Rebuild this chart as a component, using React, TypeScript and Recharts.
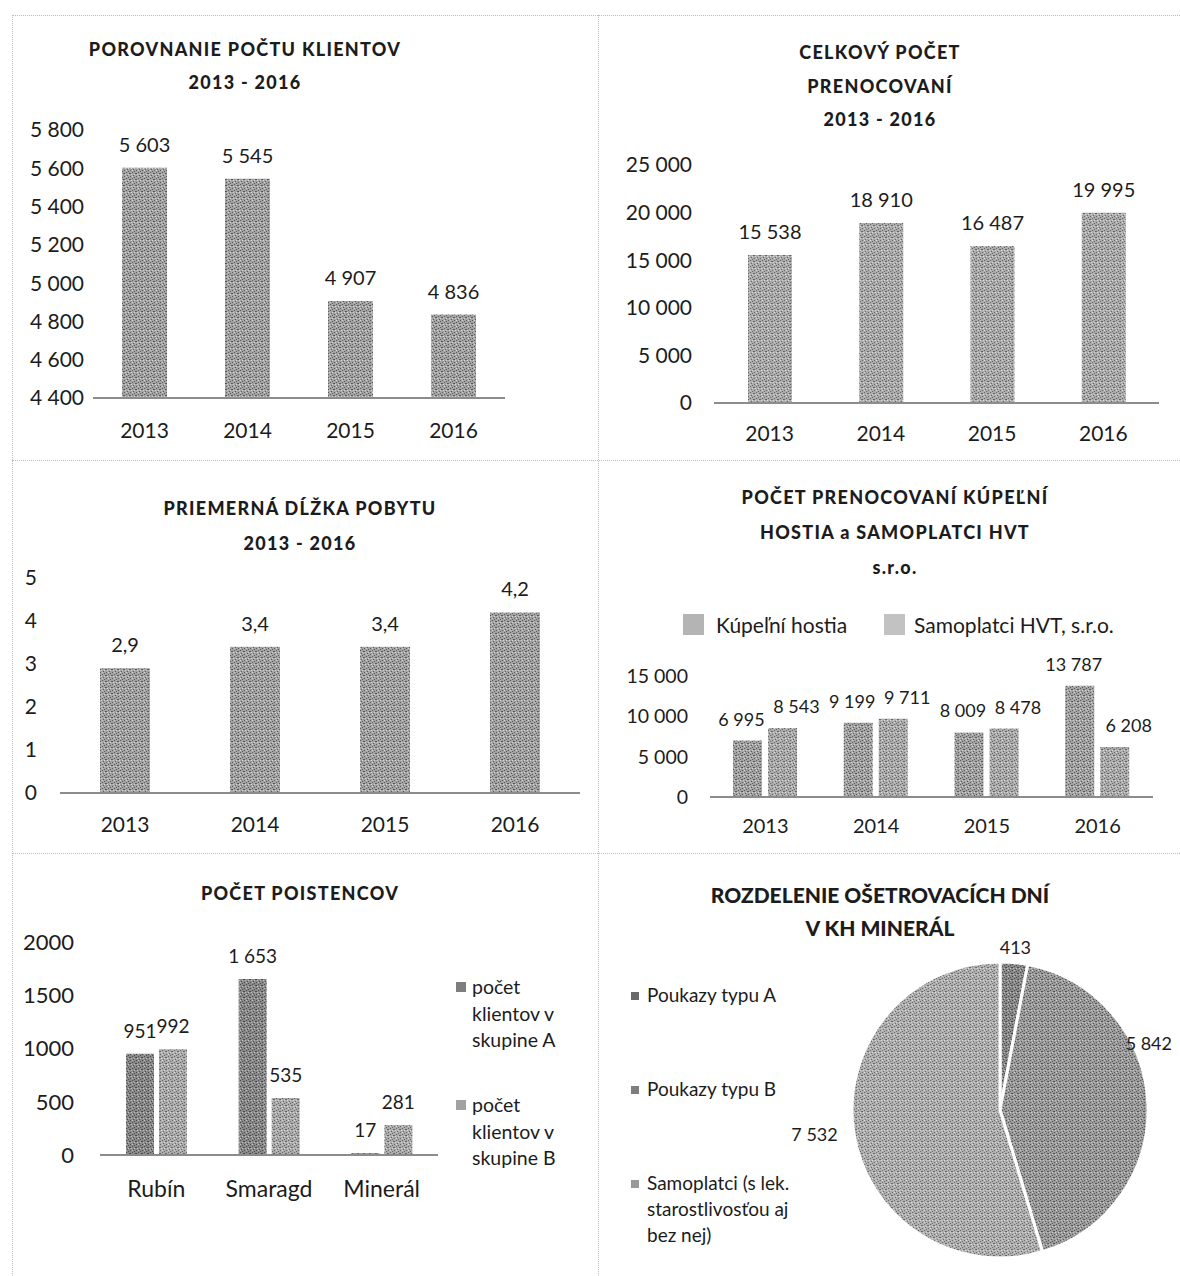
import React from 'react';
import { BarChart, Bar, XAxis, YAxis, LabelList, PieChart, Pie, Cell } from 'recharts';

const years = ['2013', '2014', '2015', '2016'];
const clients = [5603, 5545, 4907, 4836];
const clientTicks = [4400, 4600, 4800, 5000, 5200, 5400, 5600, 5800];
const nights = [15538, 18910, 16487, 19995];
const nightTicks = [0, 5000, 10000, 15000, 20000, 25000];
const avgStay = [2.9, 3.4, 3.4, 4.2];
const stayTicks = [0, 1, 2, 3, 4, 5];
const spaGuests = [6995, 9199, 8009, 13787];
const selfPayers = [8543, 9711, 8478, 6208];
const splitTicks = [0, 5000, 10000, 15000];
const splitNames = ['Kúpeľní hostia', 'Samoplatci HVT, s.r.o.'];
const resorts = ['Rubín', 'Smaragd', 'Minerál'];
const groupA = [951, 1653, 17];
const groupB = [992, 535, 281];
const insuredTicks = [0, 500, 1000, 1500, 2000];
const insuredNames = [['počet', 'klientov v', 'skupine A'], ['počet', 'klientov v', 'skupine B']];
const pieNames = [['Poukazy typu A'], ['Poukazy typu B'], ['Samoplatci (s lek.', 'starostlivosťou aj', 'bez nej)']];
const pieValues = [413, 5842, 7532];

const FONT = 'Lato, "Noto Sans", sans-serif';
const INK = '#1c1c1c';
const AXIS = '#8c8c8c';

const fmt = (v: number) => String(v).replace(/\B(?=(\d{3})+(?!\d))/g, ' ');
const fmtDec = (v: number) => String(v).replace('.', ',');

const clientData = years.map((y, i) => ({ year: y, v: clients[i] }));
const nightData = years.map((y, i) => ({ year: y, v: nights[i] }));
const stayData = years.map((y, i) => ({ year: y, v: avgStay[i] }));
const splitData = years.map((y, i) => ({ year: y, a: spaGuests[i], b: selfPayers[i] }));
const insuredData = resorts.map((r, i) => ({ name: r, a: groupA[i], b: groupB[i] }));
const pieData = pieValues.map((v, i) => ({ name: pieNames[i].join(' '), value: v }));
const pieFills = ['url(#texDark)', 'url(#texMid)', 'url(#texLight)'];

const tickStyle = (size: number) => ({ fontSize: size, fill: INK, fontFamily: FONT });

const topLabel = (dx: number, size: number, f: (v: number) => string, off = 16) => (p: any) => {
  const { x, y, width, value } = p;
  return (
    <text x={x + width / 2 + dx} y={y - off} textAnchor="middle" fontSize={size} fill={INK} fontFamily={FONT}>
      {f(value)}
    </text>
  );
};

const Title = ({ lines, left, top, width, lh, size = 18, spacing = 1.3 }: any) => (
  <div
    style={{
      position: 'absolute', left, top, width, textAlign: 'center', fontFamily: FONT, fontWeight: 900,
      fontSize: size, letterSpacing: spacing, lineHeight: `${lh}px`, color: INK,
    }}
  >
    {lines.map((l: string, i: number) => (<div key={i}>{l}</div>))}
  </div>
);

const RAD = Math.PI / 180;
const PIE_W = 580;
const pieLabel = (p: any) => {
  const { cx, cy, midAngle, outerRadius, value } = p;
  const r = outerRadius + 16;
  let x = cx + r * Math.cos(-midAngle * RAD);
  let y = cy + r * Math.sin(-midAngle * RAD);
  let anchor = Math.abs(x - cx) < 30 ? 'middle' : x > cx ? 'start' : 'end';
  const textW = 48;
  if (anchor === 'start' && x + textW + 5 > PIE_W) {
    x = PIE_W - 8;
    anchor = 'end';
    const dx = Math.min(outerRadius, x - textW - cx + 8);
    const dy = Math.sqrt(Math.max(0, outerRadius * outerRadius - dx * dx));
    y = cy - (Math.sin(midAngle * RAD) >= 0 ? dy : -dy);
  }
  return (
    <text x={x} y={y} textAnchor={anchor} dominantBaseline="central" fontSize={18} fill={INK} fontFamily={FONT}>
      {fmt(value)}
    </text>
  );
};

const Tex = ({ id, base, dark, light }: any) => (
  <pattern id={id} width="6" height="6" patternUnits="userSpaceOnUse">
    <rect width="6" height="6" fill={base} />
    <rect x="0" y="0" width="1" height="1" fill={dark} />
    <rect x="3" y="1" width="2" height="1" fill={dark} />
    <rect x="1" y="3" width="1" height="1" fill={dark} />
    <rect x="4" y="4" width="1" height="1" fill={dark} />
    <rect x="2" y="5" width="1" height="1" fill={dark} />
    <rect x="5" y="2" width="1" height="1" fill={light} />
    <rect x="2" y="2" width="1" height="1" fill={light} />
    <rect x="0" y="4" width="1" height="1" fill={light} />
  </pattern>
);

const dotted = (s: any) => <div style={{ position: 'absolute', ...s }} />;

export default function App() {
  return (
    <div style={{ position: 'absolute', left: 0, top: 0, width: 1180, height: 1276, background: '#fff', overflow: 'hidden', fontFamily: FONT }}>
      <svg width="0" height="0" style={{ position: 'absolute' }}>
        <defs>
          <Tex id="texBar" base="#a4a4a4" dark="#5a5a5a" light="#d2d2d2" />
          <Tex id="texBarL" base="#acacac" dark="#666" light="#d8d8d8" />
          <Tex id="texDark" base="#8a8a8a" dark="#4a4a4a" light="#bdbdbd" />
          <Tex id="texMid" base="#9c9c9c" dark="#555" light="#c8c8c8" />
          <Tex id="texLight" base="#b0b0b0" dark="#6a6a6a" light="#d8d8d8" />
        </defs>
      </svg>
      {dotted({ left: 12, top: 15, width: 1168, height: 0, borderTop: '1px dotted #bdbdbd' })}
      {dotted({ left: 12, top: 15, width: 0, height: 1261, borderLeft: '1px dotted #bdbdbd' })}
      {dotted({ left: 598, top: 15, width: 0, height: 1261, borderLeft: '1px dotted #bdbdbd' })}
      {dotted({ left: 12, top: 460, width: 1168, height: 0, borderTop: '1px dotted #bdbdbd' })}
      {dotted({ left: 12, top: 853, width: 1168, height: 0, borderTop: '1px dotted #bdbdbd' })}

      {/* Panel 1 */}
      <Title lines={['POROVNANIE POČTU KLIENTOV', '2013 - 2016']} left={0} top={33} width={490} lh={33} />
      <div style={{ position: 'absolute', left: 0, top: 100 }}>
        <BarChart width={520} height={360} data={clientData} margin={{ top: 30, right: 15, left: 0, bottom: 22 }}>
          <XAxis dataKey="year" interval={0} tickLine={false} axisLine={{ stroke: AXIS, strokeWidth: 2 }} tick={tickStyle(21)} tickMargin={19} height={40} />
          <YAxis type="number" domain={[4400, 5800]} ticks={clientTicks} interval={0} width={93} axisLine={false} tickLine={false} tick={tickStyle(21)} tickMargin={3} tickFormatter={fmt} />
          <Bar dataKey="v" fill="url(#texBar)" barSize={45} isAnimationActive={false}>
            <LabelList dataKey="v" content={topLabel(0, 20, fmt)} />
          </Bar>
        </BarChart>
      </div>

      {/* Panel 2 */}
      <Title lines={['CELKOVÝ POČET', 'PRENOCOVANÍ', '2013 - 2016']} left={620} top={36} width={520} lh={33.5} />
      <div style={{ position: 'absolute', left: 600, top: 140 }}>
        <BarChart width={580} height={320} data={nightData} margin={{ top: 25, right: 21, left: 0, bottom: 17 }}>
          <XAxis dataKey="year" interval={0} tickLine={false} axisLine={{ stroke: AXIS, strokeWidth: 2 }} tick={tickStyle(21)} tickMargin={17} height={40} />
          <YAxis type="number" domain={[0, 25000]} ticks={nightTicks} interval={0} width={114} axisLine={false} tickLine={false} tick={tickStyle(21)} tickMargin={16} tickFormatter={fmt} />
          <Bar dataKey="v" fill="url(#texBarL)" barSize={44} isAnimationActive={false}>
            <LabelList dataKey="v" content={topLabel(0, 20, fmt)} />
          </Bar>
        </BarChart>
      </div>

      {/* Panel 3 */}
      <Title lines={['PRIEMERNÁ DĹŽKA POBYTU', '2013 - 2016']} left={40} top={491} width={520} lh={35} />
      <div style={{ position: 'absolute', left: 0, top: 560 }}>
        <BarChart width={590} height={300} data={stayData} margin={{ top: 18, right: 10, left: 0, bottom: 27 }}>
          <XAxis dataKey="year" interval={0} tickLine={false} axisLine={{ stroke: AXIS, strokeWidth: 2 }} tick={tickStyle(21)} tickMargin={18} height={40} />
          <YAxis type="number" domain={[0, 5]} ticks={stayTicks} interval={0} width={60} axisLine={false} tickLine={false} tick={tickStyle(21)} tickMargin={17} tickFormatter={fmtDec} />
          <Bar dataKey="v" fill="url(#texBar)" barSize={50} isAnimationActive={false}>
            <LabelList dataKey="v" content={topLabel(0, 20, fmtDec)} />
          </Bar>
        </BarChart>
      </div>

      {/* Panel 4 */}
      <Title lines={['POČET PRENOCOVANÍ KÚPEĽNÍ', 'HOSTIA a SAMOPLATCI HVT', 's.r.o.']} left={620} top={480} width={550} lh={35} />
      <div style={{ position: 'absolute', left: 683, top: 614, width: 21, height: 21, backgroundColor: '#b4b4b4' }} />
      <div style={{ position: 'absolute', left: 716, top: 611, fontSize: 21, color: INK, lineHeight: '28px', whiteSpace: 'nowrap' }}>{splitNames[0]}</div>
      <div style={{ position: 'absolute', left: 884, top: 614, width: 21, height: 21, backgroundColor: '#c2c2c2' }} />
      <div style={{ position: 'absolute', left: 914, top: 611, fontSize: 21, color: INK, lineHeight: '28px', whiteSpace: 'nowrap' }}>{splitNames[1]}</div>
      <div style={{ position: 'absolute', left: 600, top: 640 }}>
        <BarChart width={580} height={220} data={splitData} margin={{ top: 36, right: 27, left: 0, bottom: 23 }} barGap={6}>
          <XAxis dataKey="year" interval={0} tickLine={false} axisLine={{ stroke: AXIS, strokeWidth: 2 }} tick={tickStyle(20)} tickMargin={16} height={40} />
          <YAxis type="number" domain={[0, 15000]} ticks={splitTicks} interval={0} width={110} axisLine={false} tickLine={false} tick={tickStyle(19.5)} tickMargin={16} tickFormatter={fmt} />
          <Bar dataKey="a" name={splitNames[0]} fill="url(#texBar)" barSize={29} isAnimationActive={false}>
            <LabelList dataKey="a" content={topLabel(-6, 18, fmt, 15)} />
          </Bar>
          <Bar dataKey="b" name={splitNames[1]} fill="url(#texBarL)" barSize={29} isAnimationActive={false}>
            <LabelList dataKey="b" content={topLabel(14, 18, fmt, 15)} />
          </Bar>
        </BarChart>
      </div>

      {/* Panel 5 */}
      <Title lines={['POČET POISTENCOV']} left={40} top={877} width={520} lh={33} />
      <div style={{ position: 'absolute', left: 0, top: 900 }}>
        <BarChart width={450} height={330} data={insuredData} margin={{ top: 42, right: 12, left: 0, bottom: 25 }} barGap={5}>
          <XAxis dataKey="name" interval={0} tickLine={false} axisLine={{ stroke: AXIS, strokeWidth: 2 }} tick={tickStyle(23)} tickMargin={20} height={50} />
          <YAxis type="number" domain={[0, 2000]} ticks={insuredTicks} interval={0} width={100} axisLine={false} tickLine={false} tick={tickStyle(22)} tickMargin={20} />
          <Bar dataKey="a" fill="url(#texDark)" barSize={28} isAnimationActive={false}>
            <LabelList dataKey="a" content={topLabel(0, 19, fmt)} />
          </Bar>
          <Bar dataKey="b" fill="url(#texBarL)" barSize={28} isAnimationActive={false}>
            <LabelList dataKey="b" content={topLabel(0, 19, fmt)} />
          </Bar>
        </BarChart>
      </div>
      {insuredNames.map((lines, k) => (
        <div key={k} style={{ position: 'absolute', left: 456, top: 974 + k * 118 }}>
          <div style={{ position: 'absolute', left: 0, top: 8, width: 10, height: 10, backgroundColor: k === 0 ? '#7e7e7e' : '#a2a2a2' }} />
          <div style={{ position: 'absolute', left: 16, top: 0, fontSize: 19.5, lineHeight: '26.5px', color: INK, whiteSpace: 'nowrap' }}>
            {lines.map((l, i) => (<div key={i}>{l}</div>))}
          </div>
        </div>
      ))}

      {/* Panel 6 */}
      <Title lines={['ROZDELENIE OŠETROVACÍCH DNÍ', 'V KH MINERÁL']} left={640} top={878} width={480} lh={33} size={21} spacing={0} />
      <div style={{ position: 'absolute', left: 600, top: 930 }}>
        <PieChart width={PIE_W} height={346}>
          <Pie data={pieData} dataKey="value" nameKey="name" cx={395} cy={175} outerRadius={148} startAngle={90} endAngle={-270}
            stroke="#fff" strokeWidth={3} label={pieLabel} labelLine={false} isAnimationActive={false}>
            {pieData.map((d, i) => (<Cell key={i} fill={pieFills[i]} />))}
          </Pie>
        </PieChart>
      </div>
      {pieNames.map((lines, k) => (
        <div key={k} style={{ position: 'absolute', left: 631, top: 982 + k * 94 }}>
          <div style={{ position: 'absolute', left: 0, top: 10, width: 8, height: 8, backgroundColor: ['#6a6a6a', '#7e7e7e', '#9a9a9a'][k] }} />
          <div style={{ position: 'absolute', left: 16, top: 0, fontSize: 19, lineHeight: '26px', color: INK, whiteSpace: 'nowrap' }}>
            {lines.map((l, i) => (<div key={i}>{l}</div>))}
          </div>
        </div>
      ))}
    </div>
  );
}
